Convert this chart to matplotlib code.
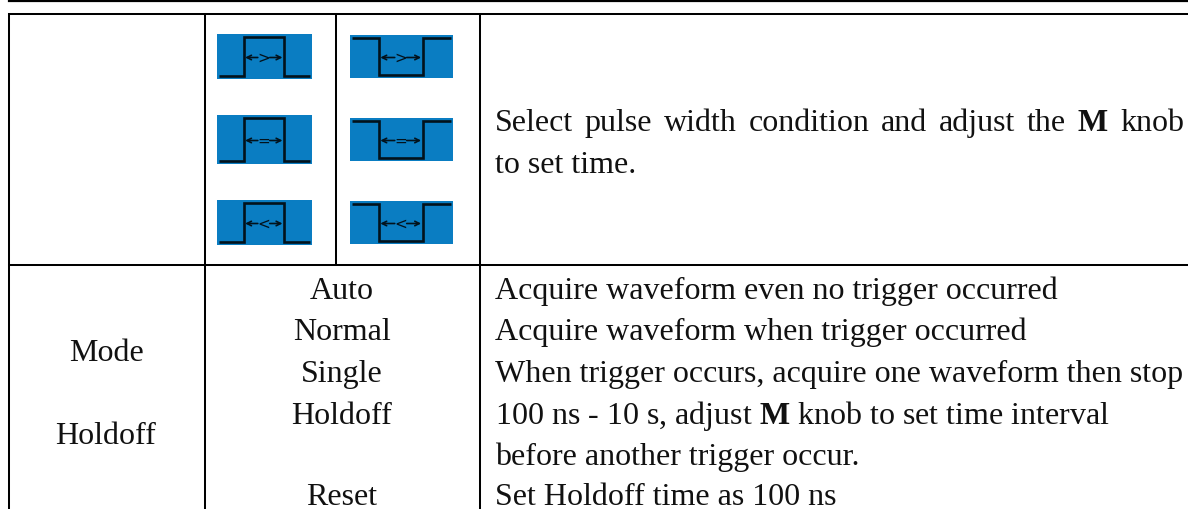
import matplotlib
matplotlib.use("Agg")
import matplotlib.pyplot as plt
from matplotlib.patches import Rectangle

plt.rcParams["font.family"] = "Liberation Serif"
plt.rcParams["mathtext.fontset"] = "custom"
plt.rcParams["mathtext.bf"] = "Liberation Serif:bold"

# contenu du tableau
mode_labels = ["Mode", "Holdoff"]
mode_y = [361, 444]
option_labels = ["Auto", "Normal", "Single", "Holdoff", "Reset"]
option_y = [299, 340, 382, 424, 505]
desc_lines = [
    "Acquire waveform even no trigger occurred",
    "Acquire waveform when trigger occurred",
    "When trigger occurs, acquire one waveform then stop",
    "100 ns - 10 s, adjust $\\mathbf{M}$ knob to set time interval",
    "before another trigger occur.",
    "Set Holdoff time as 100 ns",
]
desc_y = [299, 340, 382, 424, 465, 505]
justified_words = ["Select", "pulse", "width", "condition", "and", "adjust", "the", "$\\mathbf{M}$", "knob"]
icon_signs = [">", "=", "<"]
left_icon_top = [35, 116, 201]
left_icon_h = [45, 49, 45]
right_icon_top = [36, 119, 202]
right_icon_h = [43, 43, 43]

fig = plt.figure(figsize=(11.88, 5.10), dpi=100)
ax = fig.add_axes([0, 0, 1, 1])
ax.set_xlim(0, 1188)
ax.set_ylim(510, 0)
ax.axis("off")

# filets du tableau
lw_table = 1.45
ax.plot([9, 1188], [2, 2], color="black", lw=1.6)
for y in [15, 265.5]:
    ax.plot([9, 1188], [y, y], color="black", lw=lw_table)
ax.plot([204.5, 204.5], [15, 510], color="black", lw=lw_table)
ax.plot([336, 336], [15, 265], color="black", lw=lw_table)
ax.plot([480, 480], [15, 510], color="black", lw=lw_table)
ax.plot([9, 9], [15, 510], color="black", lw=lw_table)


def draw_icon(x0, top, w, h, sign, inverted):
    ink = "#02121c"
    ax.add_patch(Rectangle((x0, top), w, h, color="#0a7dc2", lw=0, zorder=2))
    low = top + h - 3.5
    high = top + 2.5
    a = x0 + w * 0.28
    b = x0 + w * 0.705
    ys = [high, high, low, low, high, high] if inverted else [low, low, high, high, low, low]
    ax.plot([x0 + 2, a, a, b, b, x0 + w - 2], ys, color=ink, lw=1.9, zorder=3,
            solid_joinstyle="miter", solid_capstyle="butt")
    mid = (a + b) / 2
    ymid = top + h * 0.5 + 1
    for tip, tail in [(a + 1.5, mid - 6), (b - 1.5, mid + 6)]:
        ax.annotate("", xy=(tip, ymid), xytext=(tail, ymid), zorder=3,
                    arrowprops=dict(arrowstyle="->", color=ink, lw=1.2, mutation_scale=8,
                                    shrinkA=0, shrinkB=0))
    ax.text(mid, ymid, sign, ha="center", va="center", fontsize=11, color=ink,
            family="DejaVu Sans", zorder=4)


for sign, top, h in zip(icon_signs, left_icon_top, left_icon_h):
    draw_icon(217, top, 95, h, sign, False)
for sign, top, h in zip(icon_signs, right_icon_top, right_icon_h):
    draw_icon(350, top, 103, h, sign, True)

# lignes de base du texte
fs = 23
for label, y in zip(mode_labels, mode_y):
    ax.text(106, y, label, ha="center", va="baseline", fontsize=fs, color="#111111")
for label, y in zip(option_labels, option_y):
    ax.text(342, y, label, ha="center", va="baseline", fontsize=fs, color="#111111")
for line, y in zip(desc_lines, desc_y):
    ax.text(495, y, line, ha="left", va="baseline", fontsize=fs, color="#111111")

# texte justifié de la première cellule
left, right = 495, 1184
items = [ax.text(left, 131, w, ha="left", va="baseline", fontsize=fs, color="#111111") for w in justified_words]
renderer = fig.canvas.get_renderer()
widths = [t.get_window_extent(renderer).width for t in items]
gap = (right - left - sum(widths)) / (len(items) - 1)
x = left
for t, w in zip(items, widths):
    t.set_x(x)
    x += w + gap
ax.text(left, 173, "to set time.", ha="left", va="baseline", fontsize=fs, color="#111111")

fig.savefig("out.png", dpi=100)
plt.close()
